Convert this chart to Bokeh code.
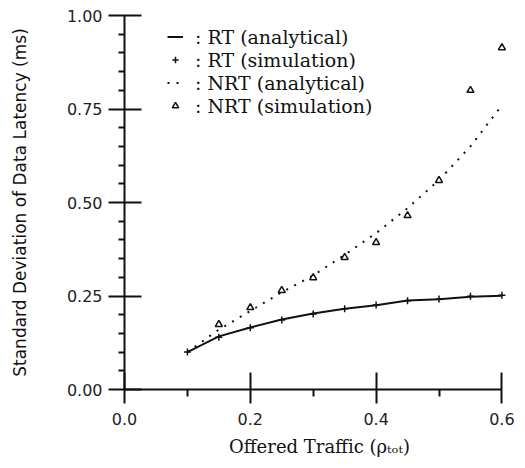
from bokeh.plotting import figure
from bokeh.models import Range1d, FixedTicker, Legend, LegendItem
from bokeh.embed import file_html
from bokeh.resources import INLINE

# ---- data ----
rho = [0.10, 0.15, 0.20, 0.25, 0.30, 0.35, 0.40, 0.45, 0.50, 0.55, 0.60]
rt_analytical = [0.100, 0.142, 0.166, 0.187, 0.203, 0.216, 0.225, 0.238, 0.241, 0.248, 0.251]
rt_simulation = [0.100, 0.140, 0.165, 0.186, 0.202, 0.216, 0.226, 0.237, 0.242, 0.249, 0.252]
nrt_analytical = [0.100, 0.160, 0.210, 0.260, 0.305, 0.360, 0.418, 0.485, 0.560, 0.650, 0.760]
rho_nrt_sim = [0.15, 0.20, 0.25, 0.30, 0.35, 0.40, 0.45, 0.50, 0.55, 0.60]
nrt_simulation = [0.174, 0.219, 0.265, 0.299, 0.353, 0.393, 0.465, 0.559, 0.800, 0.914]

x_major = [0.0, 0.2, 0.4, 0.6]
x_minor = [0.1, 0.3, 0.5]
y_major = [0.0, 0.25, 0.5, 0.75, 1.0]
y_minor = [0.05, 0.1, 0.15, 0.2, 0.3, 0.35, 0.4, 0.45, 0.55, 0.6, 0.65, 0.7, 0.8, 0.85, 0.9, 0.95]
x_labels = {0.0: "0.0", 0.2: "0.2", 0.4: "0.4", 0.6: "0.6"}
y_labels = {0.0: "0.00", 0.25: "0.25", 0.5: "0.50", 0.75: "0.75", 1.0: "1.00"}

p = figure(width=525, height=468, output_backend="svg", toolbar_location=None,
           x_range=Range1d(0, 0.62), y_range=Range1d(0, 1.0),
           min_border_left=124, min_border_right=11, min_border_top=15, min_border_bottom=79)
p.outline_line_color = None
p.grid.visible = False
p.background_fill_color = "white"
p.border_fill_color = "white"

ink = "#111111"

# x axis
xa = p.xaxis[0]
xa.ticker = FixedTicker(ticks=x_major, minor_ticks=x_minor)
xa.major_label_overrides = x_labels
xa.bounds = (0, 0.6)
xa.axis_line_width = 2
xa.axis_line_color = ink
xa.major_tick_in = 17
xa.major_tick_out = 14
xa.major_tick_line_width = 2
xa.major_tick_line_color = ink
xa.minor_tick_in = 0
xa.minor_tick_out = 7
xa.minor_tick_line_width = 2
xa.minor_tick_line_color = ink
xa.major_label_standoff = 9
xa.major_label_text_font = "DejaVu Sans"
xa.major_label_text_font_size = "16px"
xa.major_label_text_color = "#222222"
xa.axis_label = "Offered Traffic (ρₜₒₜ)"
xa.axis_label_text_font = "DejaVu Serif"
xa.axis_label_text_font_size = "18px"
xa.axis_label_text_font_style = "normal"
xa.axis_label_text_color = ink
xa.axis_label_standoff = 8

# y axis
ya = p.yaxis[0]
ya.ticker = FixedTicker(ticks=y_major, minor_ticks=y_minor)
ya.major_label_overrides = y_labels
ya.bounds = (0, 1.0)
ya.axis_line_width = 2
ya.axis_line_color = ink
ya.major_tick_in = 17
ya.major_tick_out = 16
ya.major_tick_line_width = 2
ya.major_tick_line_color = ink
ya.minor_tick_in = 0
ya.minor_tick_out = 6
ya.minor_tick_line_width = 2
ya.minor_tick_line_color = ink
ya.major_label_standoff = 6
ya.major_label_text_font = "DejaVu Sans"
ya.major_label_text_font_size = "16px"
ya.major_label_text_color = "#222222"
ya.axis_label = "Standard Deviation of Data Latency (ms)"
ya.axis_label_text_font = "DejaVu Sans"
ya.axis_label_text_font_size = "17px"
ya.axis_label_text_font_style = "normal"
ya.axis_label_text_color = ink
ya.axis_label_standoff = 34

# series
r_rt_line = p.line(rho, rt_analytical, line_color=ink, line_width=2)
r_rt_sim = p.scatter(rho, rt_simulation, marker="cross", size=7, line_color=ink, line_width=1.5)
r_nrt_line = p.line(rho, nrt_analytical, line_color=ink, line_width=2, line_dash="2 7")
r_nrt_sim = p.scatter(rho_nrt_sim, nrt_simulation, marker="triangle", size=7,
                      line_color=ink, fill_color="white", line_width=1.5)

legend = Legend(items=[
    LegendItem(label=": RT (analytical)", renderers=[r_rt_line]),
    LegendItem(label=": RT (simulation)", renderers=[r_rt_sim]),
    LegendItem(label=": NRT (analytical)", renderers=[r_nrt_line]),
    LegendItem(label=": NRT (simulation)", renderers=[r_nrt_sim]),
], location=(43, 272))
legend.border_line_color = None
legend.background_fill_alpha = 0
legend.padding = 0
legend.margin = 0
legend.spacing = 0
legend.label_height = 23
legend.glyph_height = 23
legend.glyph_width = 16
legend.label_standoff = 12
legend.label_text_font = "DejaVu Serif"
legend.label_text_font_size = "19px"
legend.label_text_color = ink
p.add_layout(legend)

open("out.html", "w").write(file_html(p, INLINE))
